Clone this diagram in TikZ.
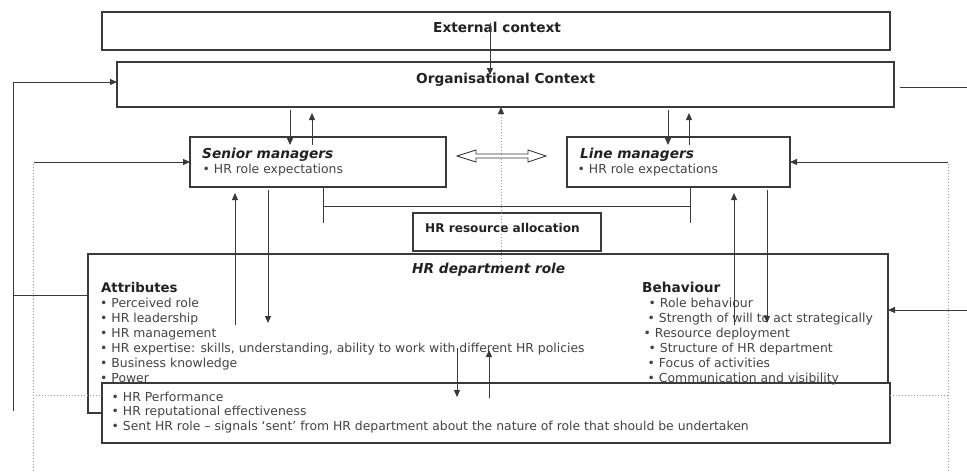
\documentclass[tikz,border=0pt]{standalone}
\usepackage{fontspec}
\setmainfont{DejaVu Sans}
\usetikzlibrary{arrows.meta,calc}
\definecolor{ln}{HTML}{3A3A3A}
\definecolor{tx}{HTML}{444444}
\definecolor{hd}{HTML}{222222}
\definecolor{dt}{HTML}{9A9A9A}
\begin{document}
\begin{tikzpicture}[x=1pt,y=-1pt,
 box/.style={draw=ln, line width=1.2pt, fill=white, inner sep=0pt, outer sep=0pt, anchor=north west},
 head/.style={font=\fontsize{13.7}{16}\selectfont\bfseries, text=hd, inner sep=0pt, anchor=base west},
 headi/.style={head, font=\fontsize{13.7}{16}\selectfont\bfseries\itshape},
 heads/.style={head, font=\fontsize{12.1}{15}\selectfont\bfseries},
 body/.style={font=\fontsize{12.4}{15}\selectfont, text=tx, inner sep=0pt, anchor=base west},
 con/.style={draw=ln, line width=1pt},
 tip/.style={-{Triangle[length=7pt,width=6pt,color=ln]}},
 arr/.style={con, tip},
 dot/.style={draw=dt, line width=1pt, dotted}]

\useasboundingbox (0,0) rectangle (967,472);
\fill[white] (0,0) rectangle (967,472);

% boxes
\node[box, minimum width=788pt, minimum height=38pt] (ext) at (102,12) {};
\node[box, minimum width=777pt, minimum height=45pt] (org) at (117,62) {};
\node[box, minimum width=256pt, minimum height=50pt] (sen) at (190,137) {};
\node[box, minimum width=223pt, minimum height=50pt] (lin) at (567,137) {};
\node[box, minimum width=188pt, minimum height=38pt] (res) at (413,213) {};
\node[box, minimum width=800pt, minimum height=159pt] (hrd) at (88,254) {};
\node[box, minimum width=788pt, minimum height=60pt] (perf) at (102,383) {};

% texts
\node[head] (extT) at (433,32) {External context};
\node[head] (orgT) at (416,83) {Organisational Context};
\node[headi] (senT) at (202,158) {Senior managers};
\node[body] (senB) at (202.5,173) {•\ HR role expectations};
\node[headi] (linT) at (580,158) {Line managers};
\node[body] (linB) at (577.5,173) {•\ HR role expectations};
\node[heads] (resT) at (425,232) {HR resource allocation};
\node[headi] (hrdT) at (412,273) {HR department role};
\node[head, font=\fontsize{13.3}{16}\selectfont\bfseries] (attT) at (101,292) {Attributes};
\node[head] (behT) at (642,292) {Behaviour};

\foreach \t [count=\i] in {Perceived role, HR leadership, HR management,
  {HR expertise: skills, understanding, ability to work with different HR policies},
  Business knowledge, Power}
  \node[body] (att\i) at (100,{307+15*(\i-1)}) {•\ \t};

\foreach \t/\xx [count=\i] in {Role behaviour/648.5, Strength of will to act strategically/647.5,
  Resource deployment/643.5, Structure of HR department/648.5,
  Focus of activities/647.5, Communication and visibility/647.5}
  \node[body] (beh\i) at (\xx,{307+15*(\i-1)}) {•\ \t};

\foreach \t [count=\i] in {HR Performance, HR reputational effectiveness,
  {Sent HR role – signals ‘sent’ from HR department about the nature of role that should be undertaken}}
  \node[body] (prf\i) at (111.5,{401+14.5*(\i-1)}) {•\ \t};

% external -> organisational
\coordinate (e1) at (490,23);
\coordinate (o1) at (490,75);
\draw[arr] (e1) -- (o1);

% left feedback loop
\coordinate (L1) at (13,411);
\coordinate (L3) at (13,295);
\draw[arr] (L1) |- ($(org.west)+(0,-2.5)$);
\draw[con] (L3) -- (L3 -| hrd.west);

% left dotted loop
\coordinate (D1) at (33,164);
\coordinate (D2) at (33,472);
\coordinate (D0) at (34,162);
\coordinate (D3) at (33,395);
\draw[dot] (D1) -- (D2);
\draw[dot] (D3) -- (D3 -| perf.west);
\draw[arr] (D0) -- (D0 -| sen.west);

% right dotted loop
\coordinate (R1) at (948,164);
\coordinate (R2) at (948,472);
\coordinate (R0) at (948,162);
\coordinate (R3) at (948,395);
\draw[dot] (R1) -- (R2);
\draw[dot] (R3) -- (R3 -| perf.east);
\draw[arr] (R0) -- (R0 -| lin.east);

% right inputs
\coordinate (R4) at (967,310);
\draw[arr] (R4) -- (R4 -| hrd.east);
\coordinate (R5) at (900,87);
\coordinate (R6) at (967,87);
\draw[con] (R5) -- (R6);

% organisational <-> managers
\coordinate (s1a) at (290,110); \coordinate (s1b) at (290,145);
\coordinate (s2a) at (312,145); \coordinate (s2b) at (312,113);
\draw[arr] (s1a) -- (s1b);
\draw[arr] (s2a) -- (s2b);
\coordinate (l1a) at (668,110); \coordinate (l1b) at (668,145);
\coordinate (l2a) at (689,145); \coordinate (l2b) at (689,113);
\draw[arr] (l1a) -- (l1b);
\draw[arr] (l2a) -- (l2b);

% dotted from HR department role up to organisational context
\coordinate (M1) at (501,265);
\draw[dot, tip] (M1) -- (M1 |- org.south);

% double arrow senior <-> line
\draw[draw=ln, line width=0.9pt, fill=white]
  (457,156) -- (476,150) -- (476,154) -- (528,154) -- (528,150) -- (546,156)
  -- (528,162) -- (528,158) -- (476,158) -- (476,162) -- cycle;

% bracket to resource allocation
\coordinate (B1) at (323,223);
\coordinate (B2) at (690,223);
\draw[con] (sen.south -| B1) -- (B1);
\draw[con] (lin.south -| B2) -- (B2);
\draw[con] ($(B1)+(0,-17)$) -- ($(B2)+(0,-17)$);

% managers <-> HR department
\coordinate (a1) at (235,325); \coordinate (a2) at (235,193);
\coordinate (a3) at (268,190); \coordinate (a4) at (268,323);
\draw[arr] (a1) -- (a2);
\draw[arr] (a3) -- (a4);
\coordinate (b1) at (734,325); \coordinate (b2) at (734,193);
\coordinate (b3) at (767,190); \coordinate (b4) at (767,323);
\draw[arr] (b1) -- (b2);
\draw[arr] (b3) -- (b4);

% HR department <-> performance
\coordinate (p1) at (457,348); \coordinate (p2) at (457,397);
\coordinate (p3) at (489,398); \coordinate (p4) at (489,350);
\draw[arr] (p1) -- (p2);
\draw[arr] (p3) -- (p4);
\end{tikzpicture}
\end{document}
